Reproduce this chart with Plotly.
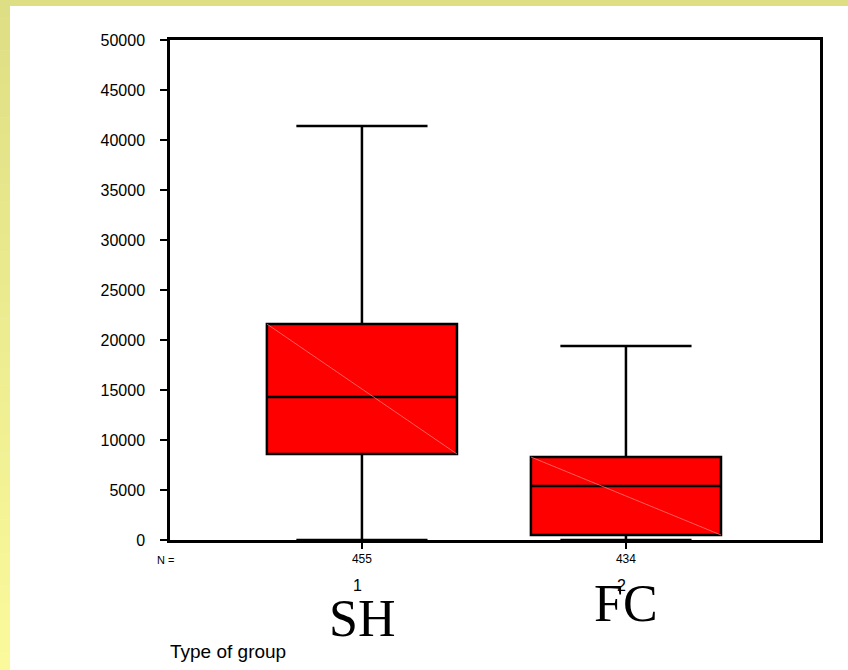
import plotly.graph_objects as go

# ---- data ----
groups = [1, 2]
group_codes = ["1", "2"]
group_names = ["SH", "FC"]
n_counts = ["455", "434"]
q1 = [8600, 500]
median = [14300, 5400]
q3 = [21600, 8300]
lower_fence = [0, 0]
upper_fence = [41400, 19400]
y_ticks = list(range(0, 50001, 5000))

W, H = 848, 670
L, R, T, B = 170, 820, 40, 540   # plot area in pixels
BOX_W = 0.72

def px_x(px):
    return (px - L) / (R - L)

def px_y(py):
    return (B - py) / (B - T)

fig = go.Figure()
fig.add_trace(go.Box(
    x=groups, q1=q1, median=median, q3=q3,
    lowerfence=lower_fence, upperfence=upper_fence,
    width=BOX_W, whiskerwidth=0.69,
    fillcolor="#ff0000", line=dict(color="black", width=2.5),
    boxpoints=False, showlegend=False, hoverinfo="skip",
))

shapes = []
# yellow gradient frame (left strip + top strip)
steps = 40
c0 = (222, 222, 132)
c1 = (250, 250, 156)
for i in range(steps):
    t = i / (steps - 1)
    col = "rgb(%d,%d,%d)" % tuple(round(a + (b - a) * t) for a, b in zip(c0, c1))
    y_top = H * i / steps
    y_bot = H * (i + 1) / steps + 0.5
    shapes.append(dict(type="rect", xref="paper", yref="paper",
                       x0=px_x(0), x1=px_x(10), y0=px_y(y_bot), y1=px_y(y_top),
                       line=dict(width=0), fillcolor=col, layer="below"))
shapes.append(dict(type="rect", xref="paper", yref="paper",
                   x0=px_x(0), x1=px_x(W), y0=px_y(6), y1=px_y(0),
                   line=dict(width=0), fillcolor="rgb(222,222,132)", layer="below"))
# faint diagonal artefact inside each box
for g, a, b in zip(groups, q3, q1):
    shapes.append(dict(type="line", xref="x", yref="y",
                       x0=g - BOX_W / 2, y0=a, x1=g + BOX_W / 2, y1=b,
                       line=dict(color="rgba(255,130,130,0.7)", width=1), layer="above"))

annotations = []
font_sans = "Arial, Liberation Sans, sans-serif"
font_serif = "Times New Roman, Liberation Serif, serif"
annotations.append(dict(text="N =", xref="paper", yref="paper", x=px_x(165), y=px_y(560),
                        xanchor="center", yanchor="middle",
                        showarrow=False, font=dict(family=font_sans, size=11, color="black")))
for g, c in zip(groups, group_codes):
    annotations.append(dict(text=c, xref="x", yref="paper", x=g, xshift=-4, y=px_y(585),
                            xanchor="center", yanchor="middle",
                            showarrow=False, font=dict(family=font_sans, size=16, color="black")))
name_y = [618, 603]
for g, nm, yy in zip(groups, group_names, name_y):
    annotations.append(dict(text=nm, xref="x", yref="paper", x=g, y=px_y(yy),
                            xanchor="center", yanchor="middle",
                            showarrow=False, font=dict(family=font_serif, size=52, color="black")))
annotations.append(dict(text="Type of group", xref="paper", yref="paper", x=px_x(168), xanchor="left",
                        y=px_y(651), yanchor="middle", showarrow=False,
                        font=dict(family=font_sans, size=19, color="black")))

axis_common = dict(showline=True, linecolor="black", linewidth=2.5, mirror=True,
                   showgrid=False, zeroline=False, ticks="outside", tickcolor="black",
                   tickwidth=2)
fig.update_layout(
    width=W, height=H,
    margin=dict(l=L, r=W - R, t=T, b=H - B),
    paper_bgcolor="white", plot_bgcolor="white",
    xaxis=dict(range=[0.273, 2.735], tickvals=groups, ticktext=n_counts, ticklen=6,
               tickfont=dict(family=font_sans, size=12, color="black"), **axis_common),
    yaxis=dict(range=[0, 50000], tickvals=y_ticks, tickformat="d", ticklen=7, ticklabelstandoff=12,
               tickfont=dict(family=font_sans, size=16, color="black"), **axis_common),
    shapes=shapes, annotations=annotations,
)
fig.write_html("out.html", config={"displayModeBar": False},
               post_script="document.body.style.margin='0px';")
